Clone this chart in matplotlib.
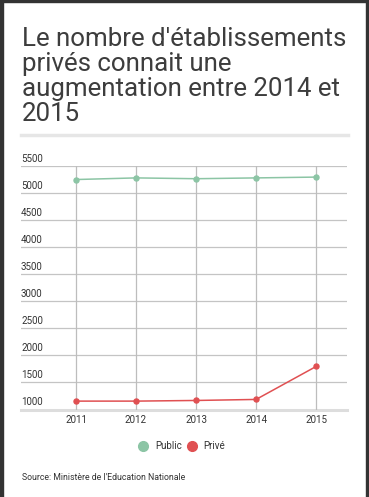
import matplotlib
matplotlib.use("Agg")
import matplotlib.pyplot as plt
import matplotlib.transforms as mtransforms
from matplotlib.patches import Rectangle
from matplotlib.lines import Line2D

years = [2011, 2012, 2013, 2014, 2015]
public = [5250, 5280, 5265, 5280, 5295]
prive = [1155, 1155, 1167, 1186, 1795]
yticks = [1000, 1500, 2000, 2500, 3000, 3500, 4000, 4500, 5000, 5500]
series_names = ["Public", "Privé"]
colors = ["#8cc5a5", "#e05052"]
title_lines = ["Le nombre d'établissements", "privés connait une",
               "augmentation entre 2014 et", "2015"]
source = "Source: Ministère de l'Education Nationale"

plt.rcParams['font.family'] = ['Roboto', 'DejaVu Sans']
W, H = 369, 497
fig = plt.figure(figsize=(W / 100, H / 100), dpi=100)
fig.patch.set_facecolor("white")

def fx(px):
    return px / W

def fy(py):
    return 1 - py / H

# border
fig.patches.append(Rectangle((0, 0), fx(3), 1, transform=fig.transFigure, color="#333333", zorder=10))
fig.patches.append(Rectangle((fx(366), 0), fx(3), 1, transform=fig.transFigure, color="#333333", zorder=10))
fig.patches.append(Rectangle((0, fy(2)), 1, fy(0) - fy(2), transform=fig.transFigure, color="#333333", zorder=10))

# title (one text per line, baselines 25 px apart)
for i, line in enumerate(title_lines):
    fig.text(fx(22), fy(45.5 + 25.3 * i), line, ha="left", va="baseline", fontsize=18.6,
             color="#3d3d3d")
# separator
fig.add_artist(Line2D([fx(21), fx(348)], [fy(134.5), fy(134.5)], transform=fig.transFigure,
                      color="#e6e6e6", linewidth=2.5))

left, right = 21, 346.7
top, bottom = 166, 409.5
ax = fig.add_axes([fx(left), fy(bottom), fx(right) - fx(left), fy(top) - fy(bottom)])
ax.set_xlim(2010.083, 2015.51)
ax.set_ylim(1000, 5500)
for s in ax.spines.values():
    s.set_visible(False)
ax.set_yticks(yticks)
ax.set_yticklabels([])
ax.set_xticks(years)
ax.set_xticklabels([str(y) for y in years], fontsize=7, color="#333333")
ax.tick_params(axis="both", length=0)
ax.tick_params(axis="x", pad=4)
for v in yticks[1:]:
    ax.axhline(v, color="#c4c4c4", linewidth=0.9, zorder=0)
ax.axhline(1000, color="#dddddd", linewidth=2.2, zorder=0, clip_on=False)
for x in years:
    ax.plot([x, x], [1000, 5500], color="#bdbdbd", linewidth=0.9, zorder=0)

trans = mtransforms.blended_transform_factory(ax.transAxes, ax.transData)
offset = mtransforms.ScaledTranslation(0, 1.8 / 72, fig.dpi_scale_trans)
for v in yticks:
    ax.text(0.0, v, str(v), transform=trans + offset, fontsize=7, color="#333333",
            ha="left", va="bottom", clip_on=False)

for vals, c in zip([public, prive], colors):
    ax.plot(years, vals, color=c, linewidth=1.1, marker="o", markersize=3.6, zorder=3,
            clip_on=False)

# legend
lx = [143.3, 191.7]
for name, c, x in zip(series_names, colors, lx):
    fig.add_artist(Line2D([fx(x)], [fy(445.7)], marker="o", markersize=7, color=c,
                          linestyle="none", transform=fig.transFigure))
    fig.text(fx(x + 12), fy(445.7), name, ha="left", va="center", fontsize=7, color="#333333")

fig.text(fx(22), fy(477.7), source, ha="left", va="center", fontsize=6.3, color="#333333")

fig.savefig("out.png", dpi=100, facecolor="white")
